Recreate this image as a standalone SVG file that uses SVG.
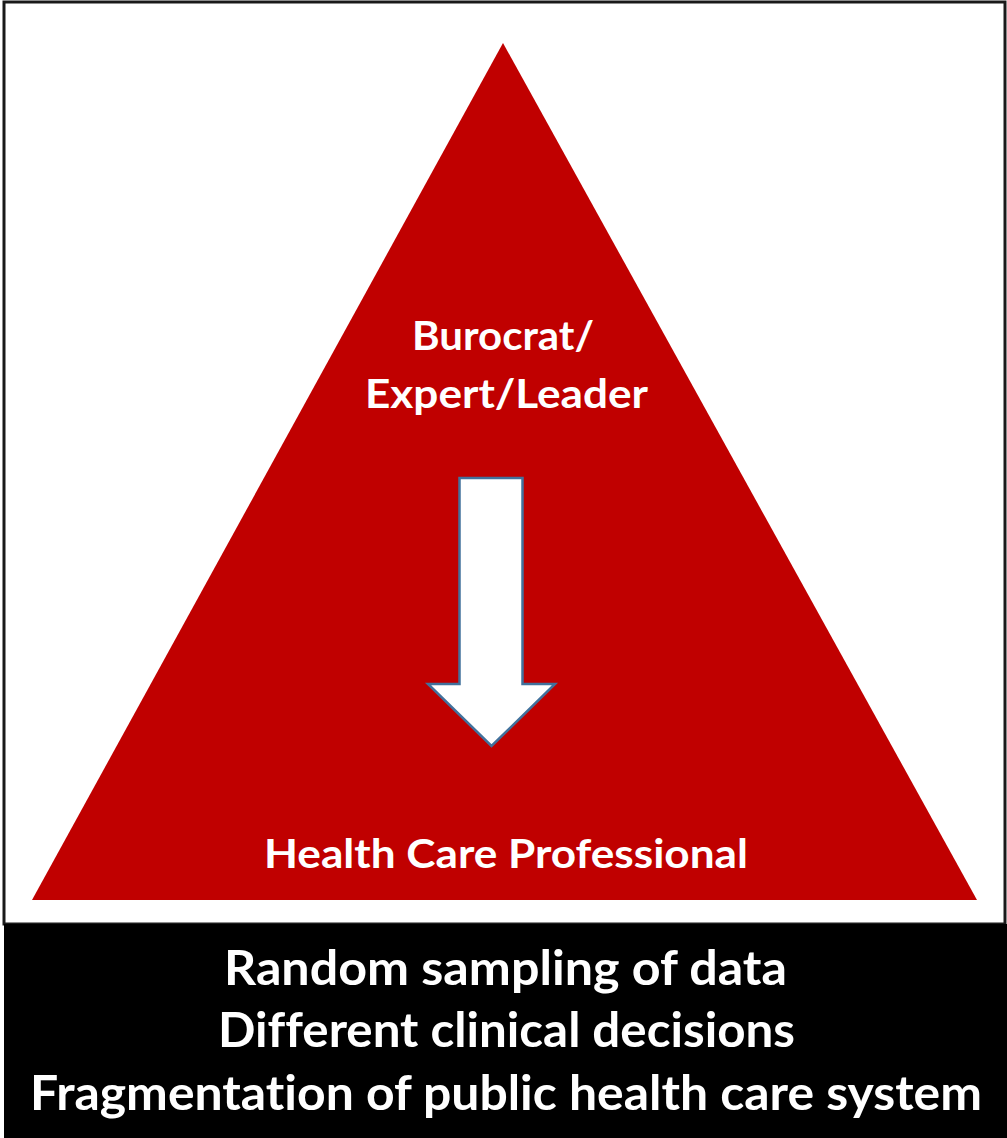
<svg xmlns="http://www.w3.org/2000/svg" width="1007" height="1138" viewBox="0 0 1007 1138">
<style>
.t{font-family:Lato,"Open Sans","Liberation Sans",sans-serif;font-weight:bold;fill:#fff;text-anchor:middle;font-variant-ligatures:none}
.m{font-size:41px}
.b{font-size:48px}
</style>
<rect x="0" y="0" width="1007" height="1138" fill="#fff"/>
<g id="frame">
<rect x="4" y="2" width="1001" height="922" fill="#fff" stroke="#1a1a1a" stroke-width="3"/>
</g>
<g id="pyramid">
<polygon points="503,43 32,900 977,900" fill="#c00000"/>
<text class="t m" x="503" y="350" textLength="182" lengthAdjust="spacingAndGlyphs">Burocrat/</text>
<text class="t m" x="506.5" y="408" textLength="283" lengthAdjust="spacingAndGlyphs">Expert/Leader</text>
<text class="t m" x="506" y="868" textLength="484" lengthAdjust="spacingAndGlyphs">Health Care Professional</text>
</g>
<g id="connectors">
<polygon points="459.5,478 522.5,478 522.5,684 555,684 491.5,746 428,684 459.5,684" fill="#fff" stroke="#41719c" stroke-width="2.5" stroke-linejoin="miter"/>
</g>
<g id="band">
<rect x="4" y="924" width="1003" height="214" fill="#000"/>
<text class="t b" x="505.5" y="985" textLength="563" lengthAdjust="spacingAndGlyphs">Random sampling of data</text>
<text class="t b" x="506.5" y="1047" textLength="577" lengthAdjust="spacingAndGlyphs">Different clinical decisions</text>
<text class="t b" x="506" y="1110" textLength="952" lengthAdjust="spacingAndGlyphs">Fragmentation of public health care system</text>
</g>
</svg>
